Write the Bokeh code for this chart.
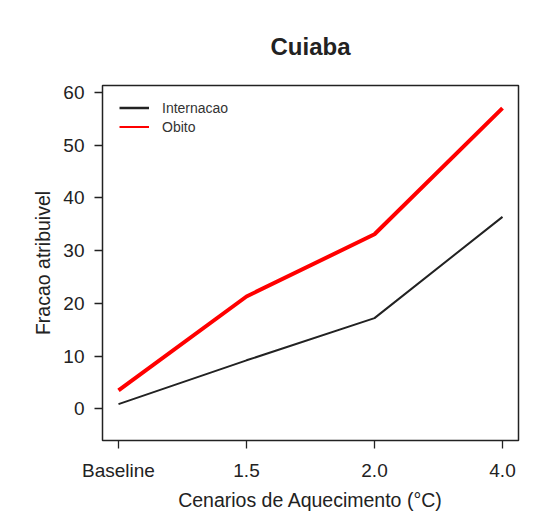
from bokeh.plotting import figure
from bokeh.models import Range1d, FixedTicker, Legend, LegendItem
from bokeh.embed import file_html
from bokeh.resources import INLINE

scenarios = ["Baseline", "1.5", "2.0", "4.0"]
internacao = [0.9, 9.2, 17.2, 36.4]
obito = [3.5, 21.3, 33.1, 57.0]
y_ticks = [0, 10, 20, 30, 40, 50, 60]

xpos = list(range(len(scenarios)))
nan = float("nan")

FONT = "Liberation Sans"

p = figure(width=544, height=513, output_backend="svg", toolbar_location=None,
           x_range=Range1d(-0.125, 3.125), y_range=Range1d(-6.0, 61.3),
           min_border_left=102, min_border_right=26, min_border_top=85, min_border_bottom=69)

p.title.text = "Cuiaba"
p.title.align = "center"
p.title.text_font = FONT
p.title.text_font_size = "24px"
p.title.text_font_style = "bold"
p.title.text_color = "#222222"
p.title.offset = 0
p.title.standoff = 52

p.grid.visible = False
p.outline_line_color = "#222222"
p.outline_line_width = 1.5
p.background_fill_color = "white"
p.border_fill_color = "white"

for ax in (p.xaxis[0], p.yaxis[0]):
    ax.axis_line_color = None
    ax.major_tick_line_color = "#222222"
    ax.major_tick_line_width = 1.3
    ax.major_tick_in = 0
    ax.major_tick_out = 8
    ax.minor_tick_line_color = None
    ax.major_label_text_font = FONT
    ax.major_label_text_font_size = "19px"
    ax.major_label_text_color = "#222222"
    ax.axis_label_text_font = FONT
    ax.axis_label_text_font_size = "19.5px"
    ax.axis_label_text_font_style = "normal"
    ax.axis_label_text_color = "#222222"

p.xaxis.ticker = FixedTicker(ticks=xpos)
p.xaxis.major_label_overrides = {i: s for i, s in zip(xpos, scenarios)}
p.xaxis.axis_label = "Cenarios de Aquecimento (°C)"
p.xaxis.major_label_standoff = 11
p.xaxis.axis_label_standoff = 5

p.yaxis.ticker = FixedTicker(ticks=y_ticks)
p.yaxis.major_label_orientation = "horizontal"
p.yaxis.axis_label = "Fracao atribuivel"
p.yaxis.major_label_standoff = 10
p.yaxis.axis_label_standoff = 6

p.line(xpos, internacao, line_color="#222222", line_width=2)
p.line(xpos, obito, line_color="#ff0000", line_width=4)

# legend keys (drawn with thinner strokes, as in the original)
k1 = p.line([nan], [nan], line_color="#222222", line_width=2.5)
k2 = p.line([nan], [nan], line_color="#ff0000", line_width=2)

legend = Legend(items=[LegendItem(label="Internacao", renderers=[k1]),
                       LegendItem(label="Obito", renderers=[k2])],
                location=(17, 304), border_line_color=None, background_fill_alpha=0,
                padding=5, spacing=0, margin=0,
                glyph_width=30, glyph_height=19, label_height=19,
                label_standoff=13,
                label_text_font=FONT, label_text_font_size="14px",
                label_text_color="#333333")
p.add_layout(legend)

open("out.html", "w").write(file_html(p, INLINE))
